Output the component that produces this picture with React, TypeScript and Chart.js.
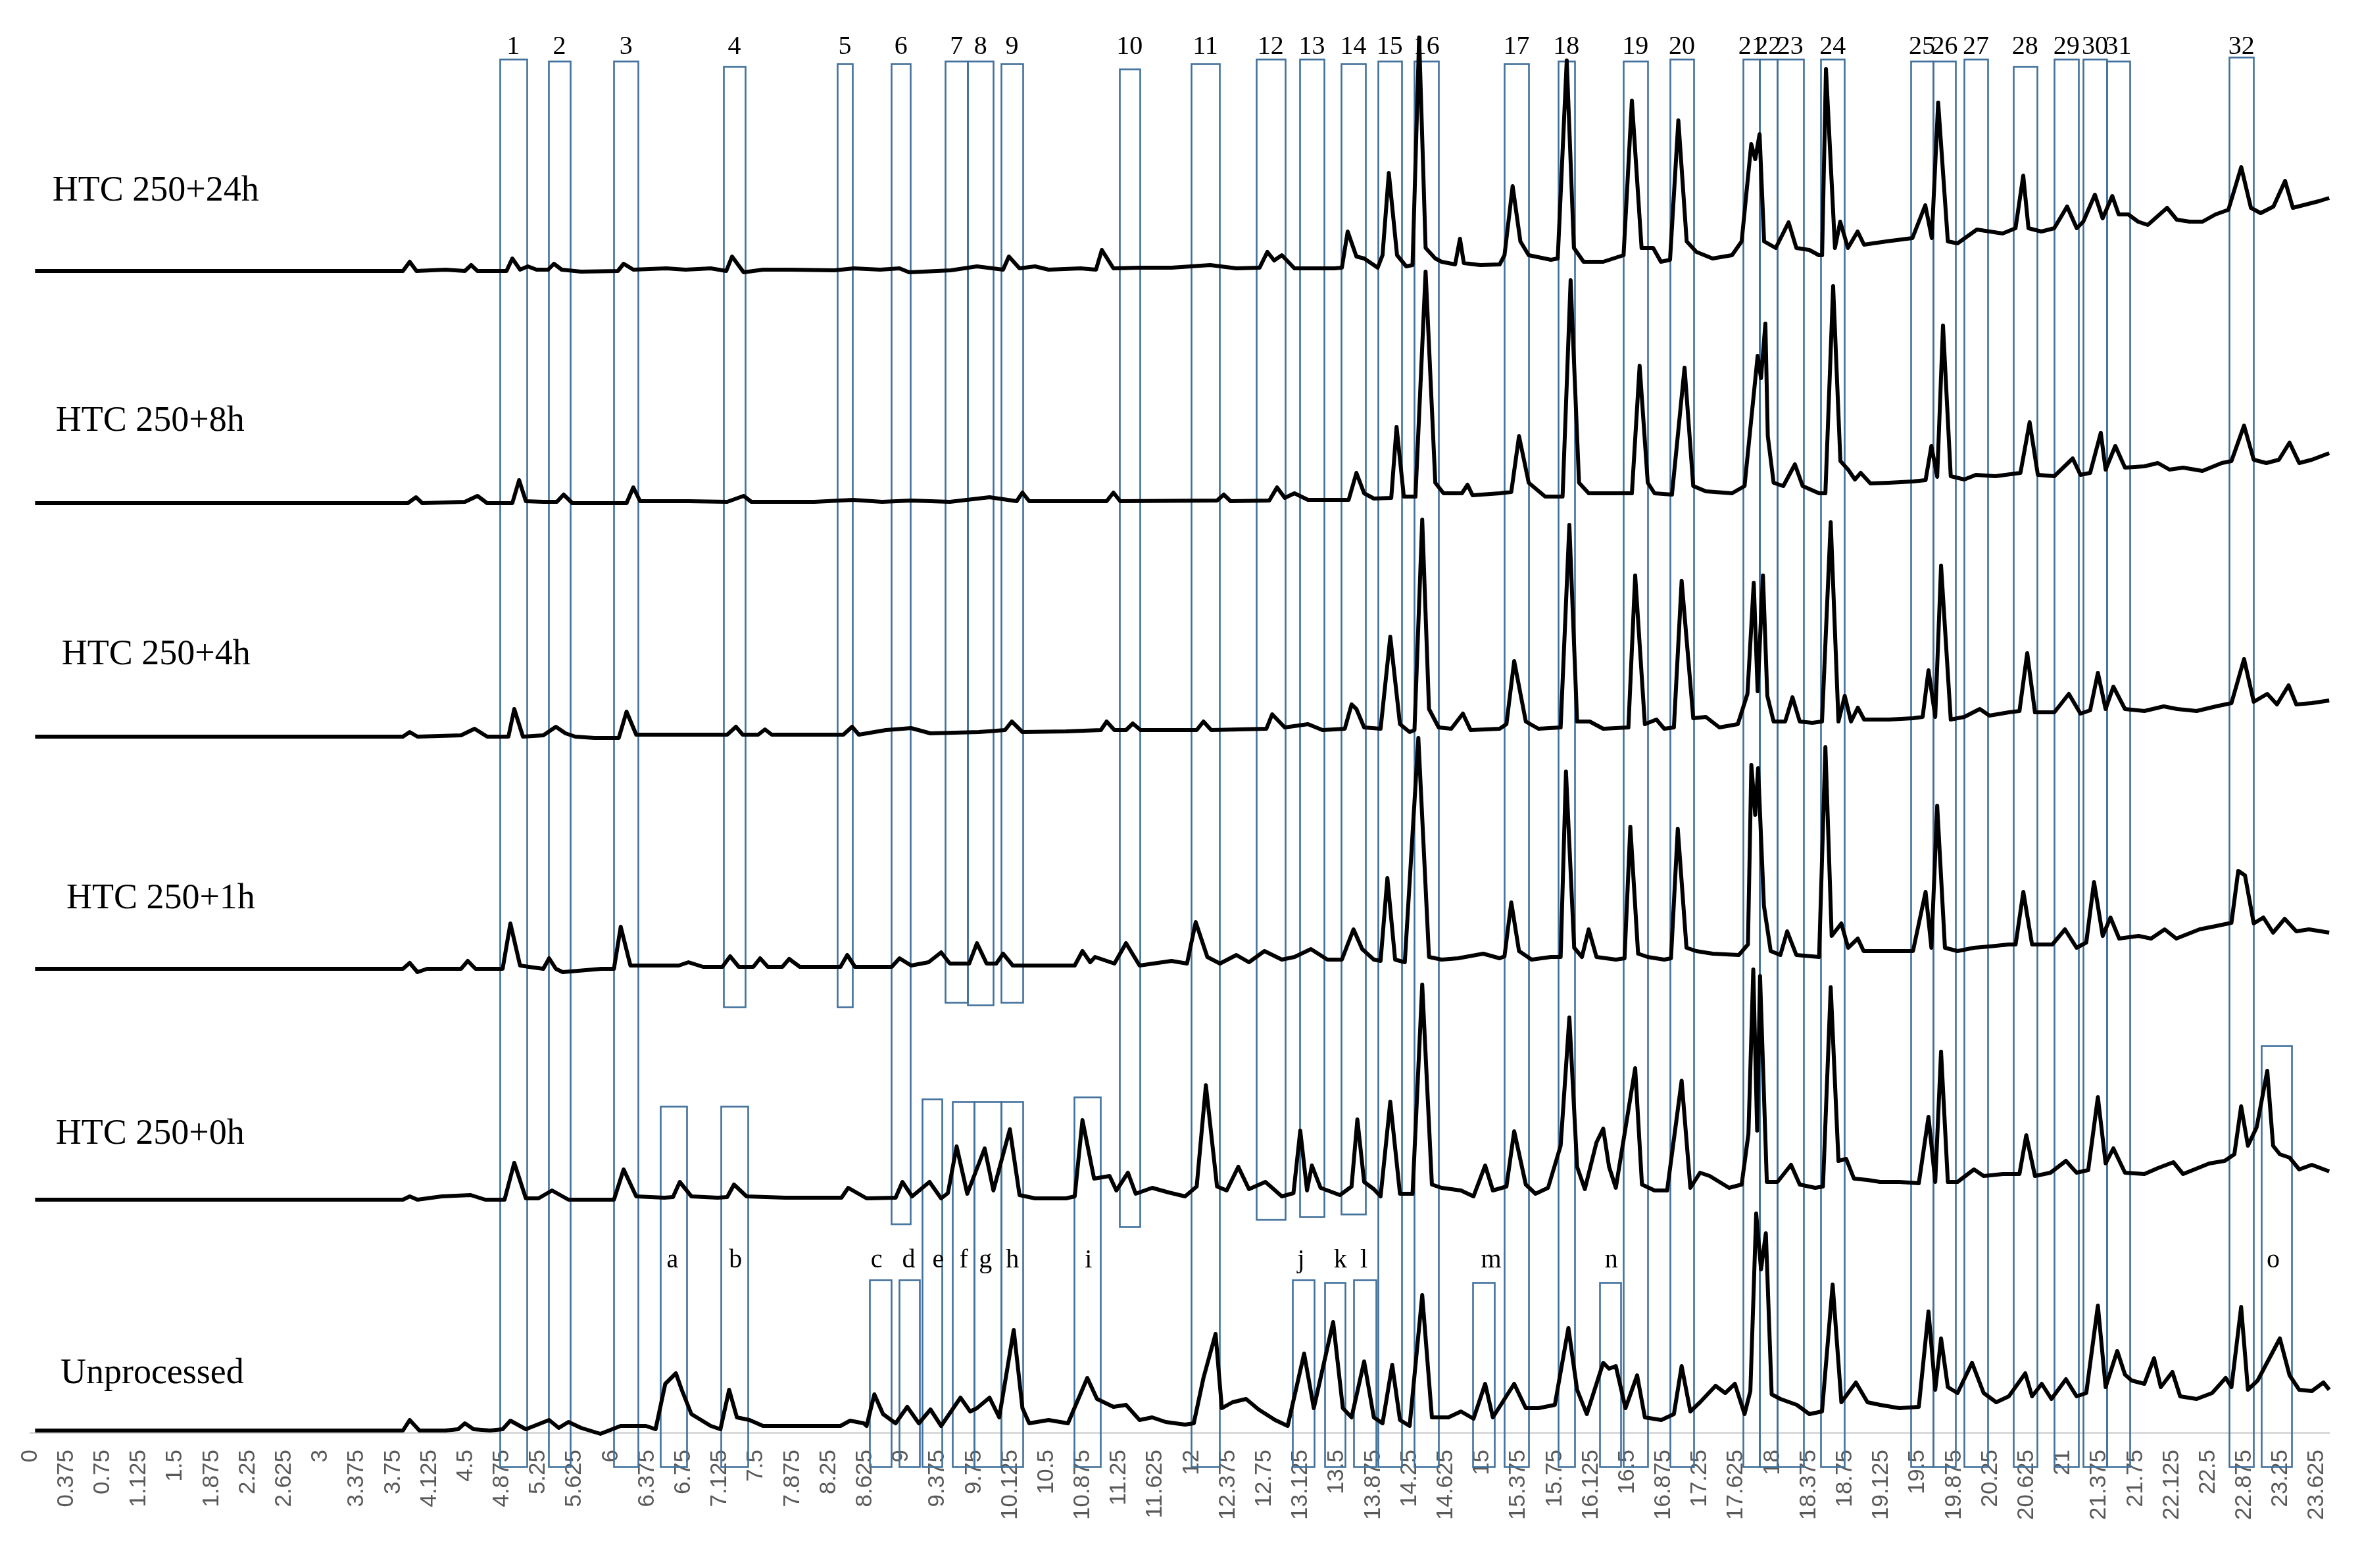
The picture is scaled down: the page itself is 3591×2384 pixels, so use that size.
import React, { useEffect, useRef } from 'react';
import { Chart, registerables } from 'chart.js';

Chart.register(...registerables);

// ---------- DATA ----------
const TICK_LABELS = [
  '0', '0.375', '0.75', '1.125', '1.5', '1.875', '2.25', '2.625', '3', '3.375', '3.75', '4.125',
  '4.5', '4.875', '5.25', '5.625', '6', '6.375', '6.75', '7.125', '7.5', '7.875', '8.25', '8.625',
  '9', '9.375', '9.75', '10.125', '10.5', '10.875', '11.25', '11.625', '12', '12.375', '12.75',
  '13.125', '13.5', '13.875', '14.25', '14.625', '15', '15.375', '15.75', '16.125', '16.5',
  '16.875', '17.25', '17.625', '18', '18.375', '18.75', '19.125', '19.5', '19.875', '20.25',
  '20.625', '21', '21.375', '21.75', '22.125', '22.5', '22.875', '23.25', '23.625',
];

const SERIES_NAMES = ['Unprocessed', 'HTC 250+0h', 'HTC 250+1h', 'HTC 250+4h', 'HTC 250+8h', 'HTC 250+24h'];

// [retention time, signal above own baseline]
const UNPROCESSED: number[][] = [
  [0.05, 0], [3.85, 0], [3.92, 16], [4.02, 0], [4.29, 0], [4.42, 2], [4.49, 11], [4.58, 2], [4.75, 0],
  [4.88, 2], [4.96, 15], [5.12, 2], [5.36, 16], [5.46, 4], [5.56, 13], [5.69, 4], [5.89, -5], [6.1, 7],
  [6.36, 7], [6.46, 2], [6.56, 71], [6.67, 87], [6.73, 62], [6.83, 25], [7.03, 7], [7.13, 2], [7.22, 62],
  [7.3, 20], [7.43, 16], [7.57, 7], [8.0, 7], [8.37, 7], [8.47, 15], [8.61, 11], [8.64, 7], [8.72, 55],
  [8.81, 25], [8.94, 11], [9.06, 36], [9.18, 11], [9.3, 32], [9.41, 7], [9.61, 50], [9.71, 29], [9.78, 34],
  [9.91, 50], [10.01, 20], [10.16, 153], [10.25, 34], [10.32, 11], [10.52, 16], [10.72, 11], [10.92, 80],
  [11.02, 48], [11.19, 36], [11.32, 39], [11.46, 16], [11.59, 20], [11.73, 13], [11.93, 9], [12.02, 11],
  [12.12, 80], [12.245, 147], [12.31, 34], [12.42, 43], [12.56, 48], [12.69, 32], [12.86, 16], [12.99, 7],
  [13.16, 117], [13.26, 34], [13.46, 165], [13.56, 34], [13.65, 20], [13.78, 105], [13.88, 20], [13.97, 11],
  [14.07, 100], [14.15, 16], [14.25, 7], [14.38, 206], [14.48, 20], [14.65, 20], [14.78, 29], [14.91, 18],
  [15.03, 71], [15.11, 20], [15.33, 71], [15.45, 34], [15.58, 34], [15.75, 39], [15.89, 156], [15.98, 62],
  [16.08, 25], [16.25, 103], [16.31, 94], [16.38, 98], [16.48, 34], [16.6, 84], [16.68, 20], [16.85, 16],
  [16.98, 25], [17.06, 98], [17.15, 29], [17.25, 43], [17.41, 68], [17.51, 57], [17.61, 71], [17.71, 25],
  [17.77, 60], [17.83, 330], [17.88, 245], [17.93, 300], [17.99, 55], [18.08, 48], [18.25, 39], [18.38, 25],
  [18.51, 29], [18.62, 222], [18.71, 43], [18.86, 73], [18.98, 43], [19.11, 39], [19.31, 34], [19.51, 36],
  [19.61, 181], [19.68, 62], [19.74, 140], [19.81, 66], [19.91, 57], [20.06, 103], [20.18, 57], [20.31, 43],
  [20.44, 52], [20.61, 87], [20.68, 52], [20.78, 71], [20.88, 48], [21.03, 78], [21.14, 52], [21.24, 57],
  [21.36, 190], [21.44, 66], [21.56, 121], [21.64, 85], [21.71, 76], [21.84, 71], [21.94, 110], [22.01, 66],
  [22.13, 89], [22.21, 52], [22.38, 48], [22.54, 57], [22.68, 80], [22.74, 66], [22.84, 188], [22.91, 62],
  [23.01, 76], [23.24, 140], [23.34, 84], [23.44, 62], [23.57, 60], [23.69, 73], [23.75, 62],
];

const HTC_0H: number[][] = [
  [0.05, 0], [3.85, 0], [3.92, 5], [4.0, 0], [4.25, 5], [4.55, 7], [4.7, 0], [4.9, 0], [5.0, 56], [5.12, 2],
  [5.25, 2], [5.39, 14], [5.56, 0], [6.03, 0], [6.13, 46], [6.26, 5], [6.55, 3], [6.64, 4], [6.71, 27],
  [6.83, 5], [7.1, 3], [7.2, 4], [7.27, 23], [7.4, 5], [7.8, 3], [8.2, 3], [8.38, 3], [8.45, 18], [8.64, 2],
  [8.94, 3], [9.01, 27], [9.11, 5], [9.29, 27], [9.41, 2], [9.48, 10], [9.57, 81], [9.68, 9], [9.86, 78],
  [9.95, 14], [10.12, 107], [10.22, 7], [10.38, 2], [10.7, 2], [10.79, 5], [10.87, 121], [10.99, 32],
  [11.15, 36], [11.22, 14], [11.34, 41], [11.42, 9], [11.59, 18], [11.76, 11], [11.93, 5], [12.05, 20],
  [12.145, 174], [12.26, 20], [12.36, 14], [12.48, 50], [12.59, 16], [12.76, 27], [12.93, 5], [13.05, 10],
  [13.12, 105], [13.19, 14], [13.24, 52], [13.33, 18], [13.53, 7], [13.65, 20], [13.71, 122], [13.78, 27],
  [13.88, 16], [13.95, 5], [14.05, 149], [14.15, 9], [14.28, 9], [14.38, 327], [14.48, 23], [14.58, 18],
  [14.78, 14], [14.91, 5], [15.03, 52], [15.11, 14], [15.25, 20], [15.33, 104], [15.45, 23], [15.55, 9],
  [15.68, 18], [15.81, 82], [15.9, 277], [15.98, 50], [16.06, 16], [16.18, 87], [16.25, 108], [16.31, 50],
  [16.38, 18], [16.58, 200], [16.65, 23], [16.78, 14], [16.91, 14], [17.06, 181], [17.15, 18], [17.25, 41],
  [17.35, 36], [17.45, 27], [17.55, 18], [17.68, 23], [17.75, 100], [17.8, 350], [17.84, 105], [17.87, 340],
  [17.94, 27], [18.05, 27], [18.19, 53], [18.28, 23], [18.44, 18], [18.52, 20], [18.6, 323], [18.68, 59],
  [18.76, 62], [18.84, 32], [18.98, 30], [19.11, 27], [19.31, 27], [19.51, 25], [19.61, 126], [19.68, 27],
  [19.74, 225], [19.81, 27], [19.91, 27], [20.08, 46], [20.18, 36], [20.38, 39], [20.55, 39], [20.62, 98],
  [20.71, 36], [20.87, 41], [21.03, 59], [21.14, 41], [21.26, 45], [21.36, 156], [21.44, 55], [21.52, 78],
  [21.64, 41], [21.84, 39], [21.98, 48], [22.14, 57], [22.24, 39], [22.51, 55], [22.67, 59], [22.77, 69],
  [22.84, 142], [22.91, 82], [23.0, 110], [23.11, 196], [23.17, 82], [23.24, 69], [23.34, 64], [23.44, 46],
  [23.57, 53], [23.75, 43],
];

const HTC_1H: number[][] = [
  [0.05, 0], [3.85, 0], [3.92, 9], [4.0, -5], [4.1, 0], [4.45, 0], [4.52, 12], [4.6, 0], [4.88, 0],
  [4.96, 69], [5.06, 5], [5.2, 2], [5.3, 0], [5.36, 16], [5.43, 0], [5.5, -5], [5.9, 0], [6.03, 0],
  [6.1, 64], [6.2, 5], [6.7, 5], [6.8, 10], [6.95, 3], [7.15, 3], [7.23, 19], [7.32, 3], [7.47, 3],
  [7.54, 16], [7.62, 3], [7.77, 3], [7.84, 15], [7.95, 3], [8.37, 3], [8.44, 21], [8.52, 3], [8.9, 3],
  [8.98, 16], [9.1, 5], [9.28, 10], [9.41, 25], [9.5, 8], [9.7, 8], [9.78, 39], [9.88, 8], [9.98, 8],
  [10.05, 23], [10.15, 5], [10.6, 5], [10.79, 5], [10.87, 27], [10.95, 10], [11.0, 18], [11.2, 8],
  [11.32, 39], [11.46, 5], [11.79, 12], [11.95, 8], [12.04, 71], [12.16, 18], [12.29, 8], [12.46, 21],
  [12.59, 10], [12.75, 27], [12.93, 14], [13.06, 18], [13.23, 30], [13.4, 14], [13.55, 14], [13.67, 60],
  [13.76, 30], [13.88, 14], [13.95, 12], [14.02, 138], [14.1, 14], [14.2, 10], [14.34, 351], [14.45, 18],
  [14.58, 14], [14.75, 16], [15.01, 23], [15.18, 16], [15.23, 19], [15.3, 101], [15.38, 27], [15.51, 14],
  [15.71, 18], [15.81, 18], [15.865, 300], [15.95, 32], [16.03, 18], [16.1, 60], [16.18, 18], [16.38, 14],
  [16.47, 16], [16.53, 216], [16.61, 23], [16.71, 18], [16.88, 14], [16.95, 16], [17.02, 213], [17.11, 32],
  [17.21, 27], [17.38, 23], [17.65, 21], [17.745, 37], [17.78, 310], [17.82, 234], [17.85, 305], [17.91, 96],
  [17.98, 27], [18.08, 21], [18.15, 57], [18.245, 21], [18.48, 18], [18.545, 337], [18.61, 50], [18.71, 69],
  [18.78, 32], [18.88, 46], [18.94, 27], [19.2, 27], [19.45, 27], [19.58, 117], [19.64, 32], [19.7, 248],
  [19.78, 32], [19.91, 27], [20.08, 32], [20.24, 34], [20.44, 37], [20.51, 37], [20.59, 117], [20.68, 37],
  [20.89, 37], [21.02, 60], [21.14, 32], [21.24, 40], [21.32, 132], [21.41, 50], [21.49, 78], [21.58, 46],
  [21.78, 50], [21.91, 46], [22.05, 60], [22.17, 46], [22.41, 60], [22.58, 65], [22.74, 70], [22.81, 149],
  [22.88, 142], [22.97, 69], [23.07, 78], [23.17, 55], [23.29, 76], [23.41, 57], [23.54, 60], [23.75, 55],
];

const HTC_4H: number[][] = [
  [0.05, 0], [3.85, 0], [3.92, 7], [4.0, 0], [4.45, 2], [4.59, 12], [4.72, 0], [4.94, 0], [5.0, 42],
  [5.09, 0], [5.3, 2], [5.43, 15], [5.53, 5], [5.63, 0], [5.83, -2], [6.08, -2], [6.16, 38], [6.26, 3],
  [6.6, 3], [7.0, 3], [7.2, 3], [7.29, 15], [7.36, 3], [7.52, 3], [7.59, 11], [7.66, 3], [8.4, 3],
  [8.49, 15], [8.56, 3], [8.84, 10], [9.1, 13], [9.3, 5], [9.8, 7], [10.07, 10], [10.14, 23], [10.25, 7],
  [10.7, 8], [11.06, 10], [11.12, 23], [11.2, 10], [11.32, 10], [11.39, 20], [11.47, 10], [12.05, 10],
  [12.12, 23], [12.2, 10], [12.77, 12], [12.83, 34], [12.96, 14], [13.2, 19], [13.35, 10], [13.58, 12],
  [13.65, 49], [13.7, 42], [13.78, 14], [13.95, 12], [14.05, 152], [14.15, 19], [14.25, 7], [14.3, 10],
  [14.38, 330], [14.45, 42], [14.55, 14], [14.68, 12], [14.8, 35], [14.88, 10], [15.18, 12], [15.25, 19],
  [15.33, 115], [15.45, 23], [15.58, 12], [15.81, 14], [15.9, 322], [15.98, 23], [16.11, 23], [16.25, 12],
  [16.51, 14], [16.58, 245], [16.68, 19], [16.8, 26], [16.88, 12], [16.98, 14], [17.06, 237], [17.18, 28],
  [17.31, 30], [17.45, 14], [17.64, 19], [17.74, 65], [17.805, 234], [17.845, 69], [17.9, 245], [17.945, 62],
  [18.01, 23], [18.13, 23], [18.205, 60], [18.28, 23], [18.41, 21], [18.51, 23], [18.6, 326], [18.68, 23],
  [18.745, 62], [18.81, 23], [18.88, 44], [18.945, 26], [19.2, 26], [19.45, 28], [19.55, 30], [19.61, 101],
  [19.68, 30], [19.74, 260], [19.84, 26], [19.98, 30], [20.14, 42], [20.24, 32], [20.44, 37], [20.55, 39],
  [20.63, 127], [20.71, 37], [20.91, 37], [21.06, 65], [21.18, 35], [21.28, 40], [21.36, 97], [21.44, 42],
  [21.52, 76], [21.64, 42], [21.84, 39], [22.04, 46], [22.18, 42], [22.38, 39], [22.58, 46], [22.74, 51],
  [22.87, 118], [22.97, 53], [23.11, 65], [23.21, 49], [23.33, 78], [23.41, 49], [23.57, 51], [23.75, 55],
];

const HTC_8H: number[][] = [
  [0.05, 0], [3.9, 0], [3.985, 9], [4.05, 0], [4.49, 2], [4.62, 11], [4.72, 0], [4.98, 0], [5.05, 35],
  [5.12, 3], [5.3, 2], [5.44, 2], [5.51, 13], [5.6, 0], [6.16, 0], [6.23, 24], [6.3, 3], [6.8, 3], [7.2, 2],
  [7.37, 11], [7.45, 2], [8.1, 2], [8.5, 5], [8.8, 2], [9.1, 4], [9.5, 2], [9.91, 9], [10.19, 3],
  [10.25, 16], [10.32, 3], [11.12, 3], [11.19, 16], [11.26, 3], [12.26, 4], [12.33, 13], [12.4, 3],
  [12.8, 4], [12.88, 24], [12.96, 8], [13.06, 15], [13.2, 5], [13.62, 5], [13.7, 46], [13.78, 15],
  [13.88, 7], [14.06, 8], [14.115, 116], [14.19, 10], [14.31, 10], [14.415, 352], [14.515, 31], [14.6, 15],
  [14.79, 15], [14.848, 28], [14.9, 12], [15.18, 15], [15.3, 17], [15.38, 102], [15.48, 31], [15.65, 10],
  [15.83, 10], [15.913, 339], [16.0, 31], [16.1, 15], [16.45, 15], [16.546, 15], [16.626, 209], [16.71, 31],
  [16.78, 15], [16.96, 13], [17.09, 206], [17.18, 26], [17.31, 18], [17.58, 15], [17.71, 26], [17.845, 224],
  [17.88, 190], [17.925, 273], [17.95, 102], [18.01, 31], [18.11, 26], [18.23, 59], [18.31, 26], [18.48, 15],
  [18.545, 15], [18.625, 330], [18.7, 64], [18.78, 51], [18.85, 36], [18.91, 46], [19.01, 30], [19.2, 31],
  [19.45, 33], [19.58, 35], [19.64, 87], [19.7, 40], [19.76, 270], [19.84, 41], [19.98, 36], [20.1, 43],
  [20.3, 41], [20.56, 46], [20.655, 123], [20.74, 43], [20.91, 41], [21.1, 68], [21.18, 43], [21.28, 46],
  [21.39, 107], [21.44, 51], [21.54, 87], [21.64, 54], [21.84, 56], [21.98, 61], [22.1, 51], [22.24, 54],
  [22.44, 49], [22.64, 61], [22.74, 64], [22.87, 118], [22.97, 66], [23.1, 61], [23.23, 66], [23.34, 92],
  [23.44, 61], [23.57, 66], [23.75, 76],
];

const HTC_24H: number[][] = [
  [0.05, 0], [3.85, 0], [3.92, 14], [3.99, 0], [4.29, 2], [4.49, 0], [4.555, 9], [4.62, 0], [4.92, 0],
  [4.98, 19], [5.06, 2], [5.14, 7], [5.23, 2], [5.35, 2], [5.41, 11], [5.49, 2], [5.69, -1], [6.07, 0],
  [6.13, 11], [6.23, 2], [6.57, 4], [6.77, 2], [7.03, 4], [7.19, 0], [7.25, 22], [7.37, -2], [7.57, 2],
  [7.84, 2], [8.31, 1], [8.51, 4], [8.78, 2], [8.98, 4], [9.08, -2], [9.51, 1], [9.78, 7], [10.05, 2],
  [10.11, 22], [10.22, 4], [10.38, 7], [10.52, 2], [10.85, 4], [11.01, 2], [11.07, 32], [11.19, 4],
  [11.46, 5], [11.79, 5], [12.19, 9], [12.46, 4], [12.7, 5], [12.78, 29], [12.85, 16], [12.93, 24],
  [13.06, 4], [13.47, 4], [13.55, 5], [13.61, 60], [13.7, 22], [13.78, 19], [13.92, 5], [13.97, 24],
  [14.035, 149], [14.12, 24], [14.215, 7], [14.28, 9], [14.348, 355], [14.415, 35], [14.515, 19], [14.58, 14],
  [14.72, 10], [14.77, 49], [14.81, 12], [14.98, 9], [15.18, 10], [15.23, 24], [15.314, 129], [15.394, 45],
  [15.48, 24], [15.71, 17], [15.78, 19], [15.873, 320], [15.947, 35], [16.047, 14], [16.25, 14], [16.46, 24],
  [16.546, 259], [16.646, 35], [16.766, 35], [16.846, 14], [16.94, 17], [17.026, 229], [17.112, 45],
  [17.212, 29], [17.379, 19], [17.58, 24], [17.68, 45], [17.779, 193], [17.82, 170], [17.865, 208],
  [17.912, 45], [18.032, 35], [18.165, 74], [18.245, 35], [18.378, 32], [18.478, 24], [18.511, 24],
  [18.551, 307], [18.644, 35], [18.698, 75], [18.778, 35], [18.878, 60], [18.944, 40], [19.177, 45],
  [19.444, 50], [19.577, 100], [19.644, 50], [19.71, 256], [19.81, 45], [19.91, 42], [20.11, 63], [20.376, 57],
  [20.509, 65], [20.589, 145], [20.643, 65], [20.776, 60], [20.909, 65], [21.042, 98], [21.142, 65],
  [21.209, 75], [21.329, 116], [21.409, 80], [21.509, 114], [21.575, 86], [21.675, 86], [21.775, 75],
  [21.875, 70], [21.975, 83], [22.075, 96], [22.175, 78], [22.308, 75], [22.441, 75], [22.575, 86],
  [22.708, 93], [22.841, 158], [22.941, 96], [23.041, 88], [23.174, 98], [23.294, 137], [23.374, 96],
  [23.507, 101], [23.64, 106], [23.75, 111],
];

const SERIES_DATA = [UNPROCESSED, HTC_0H, HTC_1H, HTC_4H, HTC_8H, HTC_24H];

// vertical stacking offset of each trace (signal units)
const SERIES_OFFSETS = [3, 354, 705, 1058, 1413, 1766];

// numbered peak windows: [label, from, to, top, bottom]
const PEAK_BOXES: [string, number, number, number, number][] = [
  ['1', 4.849, 5.131, 2088, -52], ['2', 5.354, 5.578, 2085, -52], ['3', 6.028, 6.282, 2085, -52],
  ['4', 7.161, 7.387, 2077, 647], ['5', 8.34, 8.492, 2081, 647], ['6', 8.896, 9.095, 2081, 317],
  ['7', 9.452, 9.685, 2085, 654], ['8', 9.685, 9.949, 2085, 650], ['9', 10.028, 10.254, 2081, 654],
  ['10', 11.254, 11.46, 2073, 313], ['11', 11.991, 12.287, 2081, -52], ['12', 12.667, 12.962, 2088, 324],
  ['13', 13.114, 13.365, 2088, 328], ['14', 13.545, 13.792, 2081, 332], ['15', 13.921, 14.168, 2085, -52],
  ['16', 14.3, 14.548, 2085, -52], ['17', 15.227, 15.48, 2081, -52], ['18', 15.784, 15.953, 2085, -52],
  ['19', 16.459, 16.706, 2085, -52], ['20', 16.937, 17.187, 2088, -52], ['21', 17.696, 17.865, 2088, -52],
  ['22', 17.865, 18.045, 2088, -52], ['23', 18.045, 18.319, 2088, -52], ['24', 18.495, 18.744, 2088, -52],
  ['25', 19.424, 19.661, 2085, -52], ['26', 19.661, 19.892, 2085, -52], ['27', 19.976, 20.224, 2088, -52],
  ['28', 20.488, 20.729, 2077, -52], ['29', 20.908, 21.162, 2088, -52], ['30', 21.206, 21.455, 2088, -52],
  ['31', 21.455, 21.688, 2085, -52], ['32', 22.718, 22.968, 2091, -52],
];

// lettered peak windows: [label, from, to, top, bottom, label position]
const LETTER_BOXES: [string, number, number, number, number, number][] = [
  ['a', 6.511, 6.784, 496, -52, 6.635], ['b', 7.134, 7.414, 496, -52, 7.286],
  ['c', 8.668, 8.896, 232, -52, 8.743], ['d', 8.977, 9.19, 232, -52, 9.075],
  ['e', 9.217, 9.421, 507, -52, 9.38], ['f', 9.526, 9.753, 503, -52, 9.644],
  ['g', 9.753, 10.028, 503, -52, 9.868], ['h', 10.028, 10.254, 503, -52, 10.146],
  ['i', 10.783, 11.054, 510, -52, 10.932], ['j', 13.043, 13.264, 232, -52, 13.128],
  ['k', 13.372, 13.585, 228, -52, 13.534], ['l', 13.67, 13.9, 232, -52, 13.778],
  ['m', 14.901, 15.127, 228, -52, 15.093], ['n', 16.212, 16.432, 228, -52, 16.333],
  ['o', 23.047, 23.362, 588, -52, 23.172],
];

// ---------- LAYOUT / STYLE ----------
const W = 3591;
const H = 2384;
const X_MAX = 23.75;
const Y_MAX = 2178;
const NUMBER_ROW_Y = 2107;
const LETTER_ROW_Y = 262;
const NAME_POS: [number, number][] = [
  [0.312, 89], [0.264, 453], [0.373, 811], [0.325, 1182], [0.264, 1537], [0.23, 1887],
];
const BOX_COLOR = '#41719c';
const SERIF = "'Liberation Serif', 'Times New Roman', serif";

const overlayPlugin = {
  id: 'overlay',
  beforeDatasetsDraw(chart: any) {
    const { ctx } = chart;
    const x = chart.scales.x;
    const y = chart.scales.y;
    ctx.save();
    ctx.strokeStyle = BOX_COLOR;
    ctx.lineWidth = 2.6;
    const drawBox = (l: number, r: number, t: number, b: number) => {
      const x1 = Math.round(x.getPixelForValue(l)) + 0.5;
      const x2 = Math.round(x.getPixelForValue(r)) + 0.5;
      const y1 = Math.round(y.getPixelForValue(t)) + 0.5;
      const y2 = Math.round(y.getPixelForValue(b)) + 0.5;
      ctx.strokeRect(x1, y1, x2 - x1, y2 - y1);
    };
    PEAK_BOXES.forEach(([, l, r, t, b]) => drawBox(l, r, t, b));
    LETTER_BOXES.forEach(([, l, r, t, b]) => drawBox(l, r, t, b));
    ctx.restore();
  },
  afterDatasetsDraw(chart: any) {
    const { ctx } = chart;
    const x = chart.scales.x;
    const y = chart.scales.y;
    ctx.save();
    ctx.fillStyle = '#000';
    ctx.textBaseline = 'middle';
    ctx.textAlign = 'center';
    ctx.font = `40px ${SERIF}`;
    PEAK_BOXES.forEach(([lab, l, r]) => {
      ctx.fillText(lab, x.getPixelForValue((l + r) / 2), y.getPixelForValue(NUMBER_ROW_Y));
    });
    ctx.font = `40px ${SERIF}`;
    LETTER_BOXES.forEach(([lab, , , , , lx]) => {
      ctx.fillText(lab, x.getPixelForValue(lx), y.getPixelForValue(LETTER_ROW_Y));
    });
    ctx.textAlign = 'left';
    ctx.font = `54px ${SERIF}`;
    SERIES_NAMES.forEach((name, i) => {
      const [px, py] = NAME_POS[i];
      ctx.fillText(name, x.getPixelForValue(px), y.getPixelForValue(py));
    });
    ctx.restore();
  },
};

export default function App() {
  const canvasRef = useRef<HTMLCanvasElement | null>(null);

  useEffect(() => {
    const canvas = canvasRef.current;
    if (!canvas) return;
    const datasets = SERIES_DATA.map((series, i) => ({
      label: SERIES_NAMES[i],
      data: series.map(([t, v]) => ({ x: t, y: v + SERIES_OFFSETS[i] })),
      borderColor: '#000000',
      backgroundColor: '#000000',
      borderWidth: 6,
      pointRadius: 0,
      tension: 0,
      borderJoinStyle: 'round' as const,
      clip: false as any,
    }));

    const chart = new Chart(canvas, {
      type: 'line',
      data: { datasets },
      options: {
        animation: false,
        responsive: false,
        maintainAspectRatio: false,
        layout: { padding: { left: 46, right: 41, top: 0, bottom: 0 } },
        plugins: {
          legend: { display: false },
          tooltip: { enabled: false },
        },
        scales: {
          x: {
            type: 'linear',
            min: 0,
            max: X_MAX,
            afterBuildTicks: (scale: any) => {
              scale.ticks = TICK_LABELS.map((l) => ({ value: parseFloat(l) }));
            },
            afterFit: (scale: any) => {
              scale.height = H - Y_MAX;
            },
            grid: { display: false, drawTicks: false },
            border: { display: true, color: '#d9d9d9', width: 3 },
            ticks: {
              autoSkip: false,
              minRotation: 90,
              maxRotation: 90,
              padding: 26,
              color: '#595959',
              font: { family: "'Liberation Sans', Arial, sans-serif", size: 35 },
              callback: (_v: any, idx: number) => TICK_LABELS[idx],
            },
          },
          y: {
            type: 'linear',
            display: false,
            min: 0,
            max: Y_MAX,
          },
        },
      },
      plugins: [overlayPlugin],
    });

    return () => chart.destroy();
  }, []);

  return (
    <div style={{ position: 'absolute', left: 0, top: 0, width: W, height: H, background: '#ffffff' }}>
      <canvas ref={canvasRef} width={W} height={H} style={{ width: W, height: H, display: 'block' }} />
    </div>
  );
}
